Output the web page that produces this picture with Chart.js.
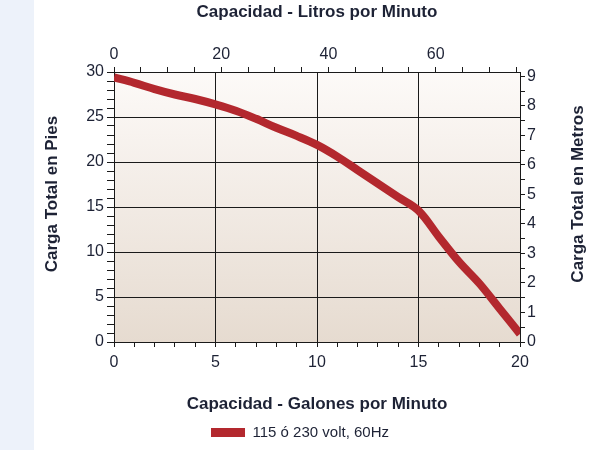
<!DOCTYPE html>
<html>
<head>
<meta charset="utf-8">
<script src="https://cdn.jsdelivr.net/npm/chart.js@4"></script>
<style>
  html, body { margin: 0; padding: 0; }
  body {
    width: 600px;
    height: 450px;
    background: linear-gradient(to right, #edf2fa 0, #edf2fa 34px, #ffffff 34px);
  }
</style>
</head>
<body>
<canvas id="pumpChart" width="600" height="450"></canvas>
<script>
// curve: capacity (US gal/min) vs total head (ft)
const galones = [0, 1, 2, 3, 4, 5, 6, 7, 8, 9, 10, 11, 12, 13, 14, 15, 16, 17, 18, 19, 20];
const cargaPies = [29.4, 28.8, 28.1, 27.5, 27.0, 26.4, 25.7, 24.8, 23.8, 22.9, 21.9, 20.6, 19.1, 17.6, 16.1, 14.6, 11.7, 8.9, 6.5, 3.7, 0.9];

const serieLabel = "115 ó 230 volt, 60Hz";
const LITROS_POR_GALON = 3.78541;
const METROS_POR_PIE = 0.3048;

const textColor = "#1d2235";
const lineColor = "#b3282e";

Chart.defaults.font.family = "'Liberation Sans', Arial, sans-serif";
Chart.defaults.color = textColor;

// tan gradient behind the plot area
const plotBackground = {
  id: "plotBackground",
  beforeDraw(chart) {
    const { ctx, chartArea: a } = chart;
    const g = ctx.createLinearGradient(0, a.top, 0, a.bottom);
    g.addColorStop(0, "#fdfaf8");
    g.addColorStop(1, "#e6dbd0");
    ctx.save();
    ctx.fillStyle = g;
    ctx.fillRect(a.left, a.top, a.right - a.left, a.bottom - a.top);
    ctx.restore();
  },
};

// both vertical titles read bottom-to-top, so draw them by hand
const sideTitles = {
  id: "sideTitles",
  afterDraw(chart) {
    const { ctx, chartArea: a } = chart;
    const midY = (a.top + a.bottom) / 2 - 13;
    ctx.save();
    ctx.font = "bold 17px 'Liberation Sans', Arial, sans-serif";
    ctx.fillStyle = textColor;
    ctx.textAlign = "center";
    ctx.textBaseline = "middle";
    [["Carga Total en Pies", a.left - 62], ["Carga Total en Metros", a.right + 58]].forEach(([txt, x]) => {
      ctx.save();
      ctx.translate(x, midY);
      ctx.rotate(-Math.PI / 2);
      ctx.fillText(txt, 0, 0);
      ctx.restore();
    });
    ctx.restore();
  },
};

const black = "#1a1a1a";
const none = "rgba(0,0,0,0)";
const tickFont = { size: 16 };
const titleFont = { size: 17, weight: "bold" };

new Chart(document.getElementById("pumpChart").getContext("2d"), {
  type: "line",
  data: {
    datasets: [
      {
        label: serieLabel,
        data: galones.map((g, i) => ({ x: g, y: cargaPies[i] })),
        borderColor: lineColor,
        backgroundColor: lineColor,
        borderWidth: 8,
        pointRadius: 0,
        tension: 0.35,
        xAxisID: "x",
        yAxisID: "y",
      },
    ],
  },
  options: {
    responsive: false,
    animation: false,
    layout: { padding: 0 },
    plugins: {
      tooltip: { enabled: false },
      legend: {
        position: "bottom",
        labels: {
          boxWidth: 34,
          boxHeight: 9,
          font: { size: 15 },
          color: textColor,
          generateLabels(chart) {
            const items = Chart.defaults.plugins.legend.labels.generateLabels(chart);
            items.forEach((it) => { it.lineWidth = 0; it.fillStyle = lineColor; });
            return items;
          },
        },
      },
    },
    scales: {
      x: {
        type: "linear",
        position: "bottom",
        min: 0,
        max: 20,
        afterFit: (s) => { s.height = 73; },
        ticks: {
          stepSize: 1,
          autoSkip: false,
          maxRotation: 0,
          padding: 6,
          font: tickFont,
          callback: (v) => (v % 5 === 0 ? v : ""),
        },
        grid: {
          color: (c) => (c.tick && c.tick.value % 5 === 0 && c.tick.value > 0 && c.tick.value < 20 ? black : none),
          tickColor: black,
          tickLength: 5,
          lineWidth: 1,
        },
        border: { color: black, width: 1 },
        title: { display: true, text: "Capacidad - Galones por Minuto", font: titleFont, padding: { top: 0, bottom: 0 } },
      },
      x2: {
        type: "linear",
        position: "top",
        min: 0,
        max: 20 * LITROS_POR_GALON,
        afterFit: (s) => { s.height = 72; },
        ticks: {
          stepSize: 5,
          includeBounds: false,
          autoSkip: false,
          maxRotation: 0,
          padding: 3,
          font: tickFont,
          callback: (v) => (v % 20 === 0 ? v : ""),
        },
        grid: { drawOnChartArea: false, tickColor: black, tickLength: 5 },
        border: { color: black, width: 1 },
        title: { display: true, text: "Capacidad - Litros por Minuto", font: titleFont, padding: { top: 2, bottom: 0 } },
      },
      y: {
        position: "left",
        min: 0,
        max: 30,
        afterFit: (s) => { s.width = 114; },
        ticks: {
          stepSize: 1,
          autoSkip: false,
          padding: 3,
          font: tickFont,
          callback: (v) => (v % 5 === 0 ? v : ""),
        },
        grid: {
          color: (c) => (c.tick && c.tick.value % 5 === 0 && c.tick.value > 0 && c.tick.value < 30 ? black : none),
          tickColor: black,
          tickLength: 7,
          lineWidth: 1,
        },
        border: { color: black, width: 1 },
      },
      y2: {
        position: "right",
        min: 0,
        max: 30 * METROS_POR_PIE,
        afterFit: (s) => { s.width = 80; },
        ticks: {
          stepSize: 0.5,
          includeBounds: false,
          autoSkip: false,
          padding: 2,
          font: tickFont,
          callback: (v) => (Number.isInteger(v) ? v : ""),
        },
        grid: { drawOnChartArea: false, tickColor: black, tickLength: 5 },
        border: { color: black, width: 1 },
      },
    },
  },
  plugins: [plotBackground, sideTitles],
});
</script>
</body>
</html>
